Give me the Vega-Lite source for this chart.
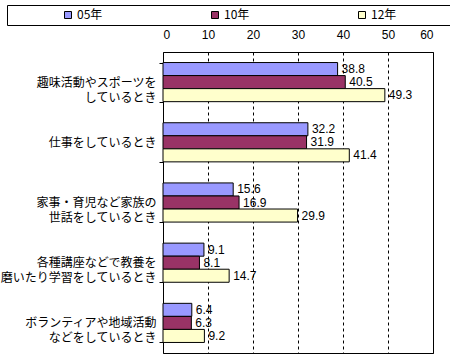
{
  "$schema": "https://vega.github.io/schema/vega-lite/v6.json",
  "width": 270,
  "height": 301,
  "autosize": {"type": "none"},
  "padding": {"left": 163, "top": 52, "right": 17, "bottom": 7},
  "background": "white",
  "data": {
    "values": [
      {"cat": "趣味活動やスポーツを|しているとき", "year": "05年", "v": 38.8},
      {"cat": "趣味活動やスポーツを|しているとき", "year": "10年", "v": 40.5},
      {"cat": "趣味活動やスポーツを|しているとき", "year": "12年", "v": 49.3},
      {"cat": "仕事をしているとき", "year": "05年", "v": 32.2},
      {"cat": "仕事をしているとき", "year": "10年", "v": 31.9},
      {"cat": "仕事をしているとき", "year": "12年", "v": 41.4},
      {"cat": "家事・育児など家族の|世話をしているとき", "year": "05年", "v": 15.6},
      {"cat": "家事・育児など家族の|世話をしているとき", "year": "10年", "v": 16.9},
      {"cat": "家事・育児など家族の|世話をしているとき", "year": "12年", "v": 29.9},
      {"cat": "各種講座などで教養を|磨いたり学習をしているとき", "year": "05年", "v": 9.1},
      {"cat": "各種講座などで教養を|磨いたり学習をしているとき", "year": "10年", "v": 8.1},
      {"cat": "各種講座などで教養を|磨いたり学習をしているとき", "year": "12年", "v": 14.7},
      {"cat": "ボランティアや地域活動|などをしているとき", "year": "05年", "v": 6.4},
      {"cat": "ボランティアや地域活動|などをしているとき", "year": "10年", "v": 6.3},
      {"cat": "ボランティアや地域活動|などをしているとき", "year": "12年", "v": 9.2}
    ]
  },
  "encoding": {
    "y": {
      "field": "cat",
      "type": "nominal",
      "sort": ["趣味活動やスポーツを|しているとき", "仕事をしているとき", "家事・育児など家族の|世話をしているとき", "各種講座などで教養を|磨いたり学習をしているとき", "ボランティアや地域活動|などをしているとき"],
      "scale": {"paddingInner": 0.35, "paddingOuter": 0.175},
      "title": null,
      "axis": {
        "domain": false,
        "tickBand": "extent",
        "tickSize": 4,
        "tickColor": "black",
        "labelPadding": 3,
        "labelFont": "Noto Sans CJK JP",
        "labelFontSize": 12,
        "labelColor": "black",
        "labelLineHeight": 15,
        "labelLimit": 300,
        "labelExpr": "split(datum.label, '|')"
      }
    },
    "yOffset": {"field": "year", "type": "nominal", "sort": ["05年", "10年", "12年"], "scale": {"paddingInner": 0}},
    "x": {
      "field": "v",
      "type": "quantitative",
      "scale": {"domain": [0, 60]},
      "title": null,
      "axis": {
        "orient": "top",
        "values": [0, 10, 20, 30, 40, 50, 60],
        "domain": false,
        "ticks": false,
        "labelPadding": 11,
        "labelFont": "Liberation Sans",
        "labelFontSize": 12,
        "labelColor": "black",
        "grid": true,
        "gridColor": "black",
        "gridDash": [3, 3],
        "gridWidth": 1,
        "gridOpacity": 1
      }
    }
  },
  "layer": [
    {
      "mark": {"type": "bar", "stroke": "black", "strokeWidth": 1},
      "encoding": {
        "color": {
          "field": "year",
          "type": "nominal",
          "scale": {"domain": ["05年", "10年", "12年"], "range": ["#9999FF", "#993366", "#FFFFCC"]},
          "legend": {
            "orient": "none",
            "legendX": -156,
            "legendY": -47,
            "direction": "horizontal",
            "columns": 3,
            "title": "\u00a0",
            "titleOrient": "right",
            "titlePadding": 60,
            "titleFontSize": 12,
            "symbolType": "square",
            "symbolSize": 49,
            "symbolStrokeColor": "black",
            "symbolStrokeWidth": 1,
            "strokeColor": "black",
            "padding": 4,
            "symbolOffset": 51,
            "columnPadding": 55,
            "labelOffset": 3,
            "labelFont": "Noto Sans CJK JP",
            "labelFontSize": 12,
            "labelColor": "black"
          }
        }
      }
    },
    {
      "mark": {"type": "text", "align": "left", "baseline": "middle", "dx": 4, "font": "Liberation Sans", "fontSize": 12, "color": "black"},
      "encoding": {"text": {"field": "v", "type": "quantitative", "format": ".1f"}}
    }
  ],
  "config": {"view": {"stroke": "black", "strokeWidth": 1}}
}
